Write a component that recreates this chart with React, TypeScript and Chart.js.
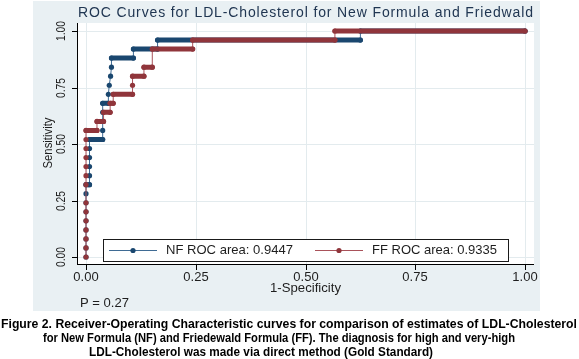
import React, { useEffect, useRef } from "react";
import { Chart, registerables } from "chart.js";

Chart.register(...registerables);

// ---------- data ----------
const NF_X = [0, 0, 0, 0, 0, 0, 0, 0, 0, 0.008, 0.008, 0.008, 0.008, 0.008, 0.008, 0.038, 0.038, 0.038, 0.038, 0.038, 0.051, 0.051, 0.053, 0.056, 0.058, 0.058, 0.108, 0.108, 0.163, 0.163, 0.625, 0.625, 1.0];
const NF_Y = [0, 0.04, 0.08, 0.12, 0.16, 0.2, 0.24, 0.28, 0.32, 0.32, 0.36, 0.4, 0.44, 0.48, 0.52, 0.52, 0.56, 0.6, 0.64, 0.68, 0.68, 0.72, 0.76, 0.8, 0.84, 0.88, 0.88, 0.92, 0.92, 0.96, 0.96, 1.0, 1.0];

const FF_X = [0, 0, 0, 0, 0, 0, 0, 0, 0, 0, 0, 0, 0, 0, 0.025, 0.025, 0.04, 0.04, 0.055, 0.055, 0.062, 0.062, 0.106, 0.106, 0.106, 0.132, 0.132, 0.151, 0.151, 0.243, 0.243, 0.567, 0.567, 1.0];
const FF_Y = [0, 0.04, 0.08, 0.12, 0.16, 0.2, 0.24, 0.32, 0.36, 0.4, 0.44, 0.48, 0.52, 0.56, 0.56, 0.6, 0.6, 0.64, 0.64, 0.68, 0.68, 0.72, 0.72, 0.76, 0.8, 0.8, 0.84, 0.84, 0.92, 0.92, 0.96, 0.96, 1.0, 1.0];

const TICK_VALUES = [0, 0.25, 0.5, 0.75, 1];
const TICK_LABELS = ["0.00", "0.25", "0.50", "0.75", "1.00"];
const SERIES_LABELS = ["NF ROC area: 0.9447", "FF ROC area: 0.9335"];
const TITLE = "ROC Curves for LDL-Cholesterol for New Formula and Friedwald";
const X_TITLE = "1-Specificity";
const Y_TITLE = "Sensitivity";
const NOTE = "P = 0.27";
const CAPTION = [
  "Figure 2. Receiver-Operating Characteristic curves for comparison of estimates of LDL-Cholesterol",
  "for New Formula (NF) and Friedewald Formula (FF). The diagnosis for high and very-high",
  "LDL-Cholesterol was made via direct method (Gold Standard)",
];

// ---------- layout / style ----------
const W = 579;
const H = 359;
const PANEL = { left: 33, top: 1, right: 540, bottom: 311 };
const AREA = { left: 78, top: 23, right: 534, bottom: 265 };
const X0PX = 86, X1PX = 525, Y0PX = 257, Y1PX = 31;
const X_MIN = (AREA.left - X0PX) / (X1PX - X0PX);
const X_MAX = 1 + (AREA.right - X1PX) / (X1PX - X0PX);
const Y_MIN = -(AREA.bottom - Y0PX) / (Y0PX - Y1PX);
const Y_MAX = 1 + (Y1PX - AREA.top) / (Y0PX - Y1PX);

const PANEL_BG = "#e9f0f3";
const GRID = "#e3ebee";
const NAVY = "#1a476f";
const NAVY_LINE = "#3f6b94";
const MAROON = "#90353b";
const MAROON_LINE = "#a9525a";
const TEXT = "#1e1e1e";
const TITLE_COLOR = "#203652";
const FONT = "'Liberation Sans', Arial, sans-serif";

function drawFitted(
  ctx: CanvasRenderingContext2D,
  text: string,
  cx: number,
  cy: number,
  width: number | null,
  font: string,
  color: string,
  rotate = false
) {
  ctx.save();
  ctx.font = font;
  ctx.fillStyle = color;
  ctx.textBaseline = "middle";
  ctx.textAlign = "left";
  const anyCtx = ctx as any;
  let w = ctx.measureText(text).width;
  let ls = 0;
  if (width !== null && w < width * 0.97 && "letterSpacing" in anyCtx) {
    ls = (width - w) / Math.max(1, text.length - 1);
    anyCtx.letterSpacing = ls.toFixed(2) + "px";
    w = ctx.measureText(text).width - ls;
  }
  const sx = width === null ? 1 : width / w;
  ctx.translate(cx, cy);
  if (rotate) ctx.rotate(-Math.PI / 2);
  ctx.scale(sx, 1);
  ctx.fillText(text, -w / 2, 0);
  ctx.restore();
}

const stataPlugin = {
  id: "stataLook",
  beforeDraw(chart: any) {
    const { ctx, chartArea: a } = chart;
    const xs = chart.scales.x;
    const ys = chart.scales.y;
    ctx.save();
    ctx.fillStyle = "#ffffff";
    ctx.fillRect(0, 0, W, H);
    ctx.fillStyle = PANEL_BG;
    ctx.fillRect(PANEL.left, PANEL.top, PANEL.right - PANEL.left, PANEL.bottom - PANEL.top);
    ctx.fillStyle = "#ffffff";
    ctx.fillRect(a.left, a.top, a.right - a.left, a.bottom - a.top);

    // grid
    ctx.strokeStyle = GRID;
    ctx.lineWidth = 1;
    TICK_VALUES.forEach((v) => {
      const px = Math.round(xs.getPixelForValue(v)) + 0.5;
      ctx.beginPath();
      ctx.moveTo(px, a.top);
      ctx.lineTo(px, a.bottom);
      ctx.stroke();
      const py = Math.round(ys.getPixelForValue(v)) + 0.5;
      ctx.beginPath();
      ctx.moveTo(a.left, py);
      ctx.lineTo(a.right, py);
      ctx.stroke();
    });

    // axes
    ctx.strokeStyle = "#000000";
    ctx.beginPath();
    ctx.moveTo(a.left - 0.5, a.top);
    ctx.lineTo(a.left - 0.5, a.bottom);
    ctx.moveTo(a.left - 1, a.bottom - 0.5);
    ctx.lineTo(a.right, a.bottom - 0.5);
    ctx.stroke();

    TICK_VALUES.forEach((v, i) => {
      const px = Math.round(xs.getPixelForValue(v)) + 0.5;
      const py = Math.round(ys.getPixelForValue(v)) + 0.5;
      ctx.strokeStyle = "#000000";
      ctx.beginPath();
      ctx.moveTo(px, a.bottom);
      ctx.lineTo(px, a.bottom + 5);
      ctx.moveTo(a.left - 1, py);
      ctx.lineTo(a.left - 6, py);
      ctx.stroke();
      drawFitted(ctx, TICK_LABELS[i], px - 0.5, 277, null, `13px ${FONT}`, TEXT);
      drawFitted(ctx, TICK_LABELS[i], 62, py - 0.5, 20, `12px ${FONT}`, TEXT, true);
    });

    drawFitted(ctx, X_TITLE, 305.5, 288, 71, `13px ${FONT}`, TEXT);
    drawFitted(ctx, Y_TITLE, 49, 143, 51, `12px ${FONT}`, TEXT, true);
    drawFitted(ctx, TITLE, 305.5, 13, 455, `14px ${FONT}`, TITLE_COLOR);
    drawFitted(ctx, NOTE, 104.5, 303, 49, `13px ${FONT}`, TEXT);
    ctx.restore();
  },
  afterDatasetsDraw(chart: any) {
    const { ctx } = chart;
    ctx.save();
    // legend box
    ctx.fillStyle = "#ffffff";
    ctx.fillRect(103.5, 239.5, 405, 22);
    ctx.strokeStyle = "#1a1a1a";
    ctx.lineWidth = 1;
    ctx.strokeRect(103.5, 239.5, 405, 22);

    const entries = [
      { x0: 109, x1: 157, text: SERIES_LABELS[0], tc: 229.5, tw: 127, line: NAVY_LINE, mark: NAVY },
      { x0: 315, x1: 363, text: SERIES_LABELS[1], tc: 434.5, tw: 125, line: MAROON_LINE, mark: MAROON },
    ];
    entries.forEach((e) => {
      ctx.strokeStyle = e.line;
      ctx.lineWidth = 1;
      ctx.beginPath();
      ctx.moveTo(e.x0, 250.5);
      ctx.lineTo(e.x1, 250.5);
      ctx.stroke();
      ctx.fillStyle = e.mark;
      ctx.beginPath();
      ctx.arc((e.x0 + e.x1) / 2, 250.5, 2.6, 0, Math.PI * 2);
      ctx.fill();
      drawFitted(ctx, e.text, e.tc, 250.5, e.tw, `13px ${FONT}`, TEXT);
    });

    // caption
    const capFont = `bold 13px ${FONT}`;
    drawFitted(ctx, CAPTION[0], 289, 324, 576, capFont, "#000000");
    drawFitted(ctx, CAPTION[1], 279, 338, 472, capFont, "#000000");
    drawFitted(ctx, CAPTION[2], 261, 352, 344, capFont, "#000000");
    ctx.restore();
  },
};

function makeDataset(label: string, xs: number[], ys: number[], mark: string, line: string, order: number) {
  return {
    label,
    data: xs.map((x, i) => ({ x, y: ys[i] })),
    showLine: true,
    borderColor: line,
    backgroundColor: mark,
    borderWidth: 1,
    borderCapStyle: "round" as const,
    borderJoinStyle: "round" as const,
    pointRadius: 2.6,
    pointBorderWidth: 0,
    pointBackgroundColor: mark,
    pointBorderColor: mark,
    pointHoverRadius: 2.6,
    order,
    clip: 6,
    segment: {
      borderWidth: (c: any) => (c.p0.parsed.y === c.p1.parsed.y ? 5 : 1),
      borderColor: (c: any) => (c.p0.parsed.y === c.p1.parsed.y ? mark : line),
    },
  };
}

export default function App() {
  const ref = useRef<HTMLCanvasElement | null>(null);
  useEffect(() => {
    const prevMargin = document.body.style.margin;
    document.body.style.margin = "0";
    const canvas = ref.current;
    if (!canvas) return;
    const chart = new Chart(canvas, {
      type: "scatter",
      data: {
        datasets: [
          makeDataset(SERIES_LABELS[0], NF_X, NF_Y, NAVY, NAVY_LINE, 2),
          makeDataset(SERIES_LABELS[1], FF_X, FF_Y, MAROON, MAROON_LINE, 1),
        ] as any,
      },
      options: {
        responsive: false,
        animation: false,
        devicePixelRatio: 1,
        events: [],
        layout: {
          padding: { left: AREA.left, top: AREA.top, right: W - AREA.right, bottom: H - AREA.bottom },
        },
        plugins: {
          legend: { display: false },
          tooltip: { enabled: false },
          title: { display: false },
        },
        scales: {
          x: { type: "linear", min: X_MIN, max: X_MAX, display: false },
          y: { type: "linear", min: Y_MIN, max: Y_MAX, display: false },
        },
      },
      plugins: [stataPlugin],
    });
    return () => {
      chart.destroy();
      document.body.style.margin = prevMargin;
    };
  }, []);
  return (
    <div style={{ position: "absolute", left: 0, top: 0, width: W, height: H }}>
      <canvas ref={ref} width={W} height={H} style={{ display: "block", width: W, height: H }} />
    </div>
  );
}
